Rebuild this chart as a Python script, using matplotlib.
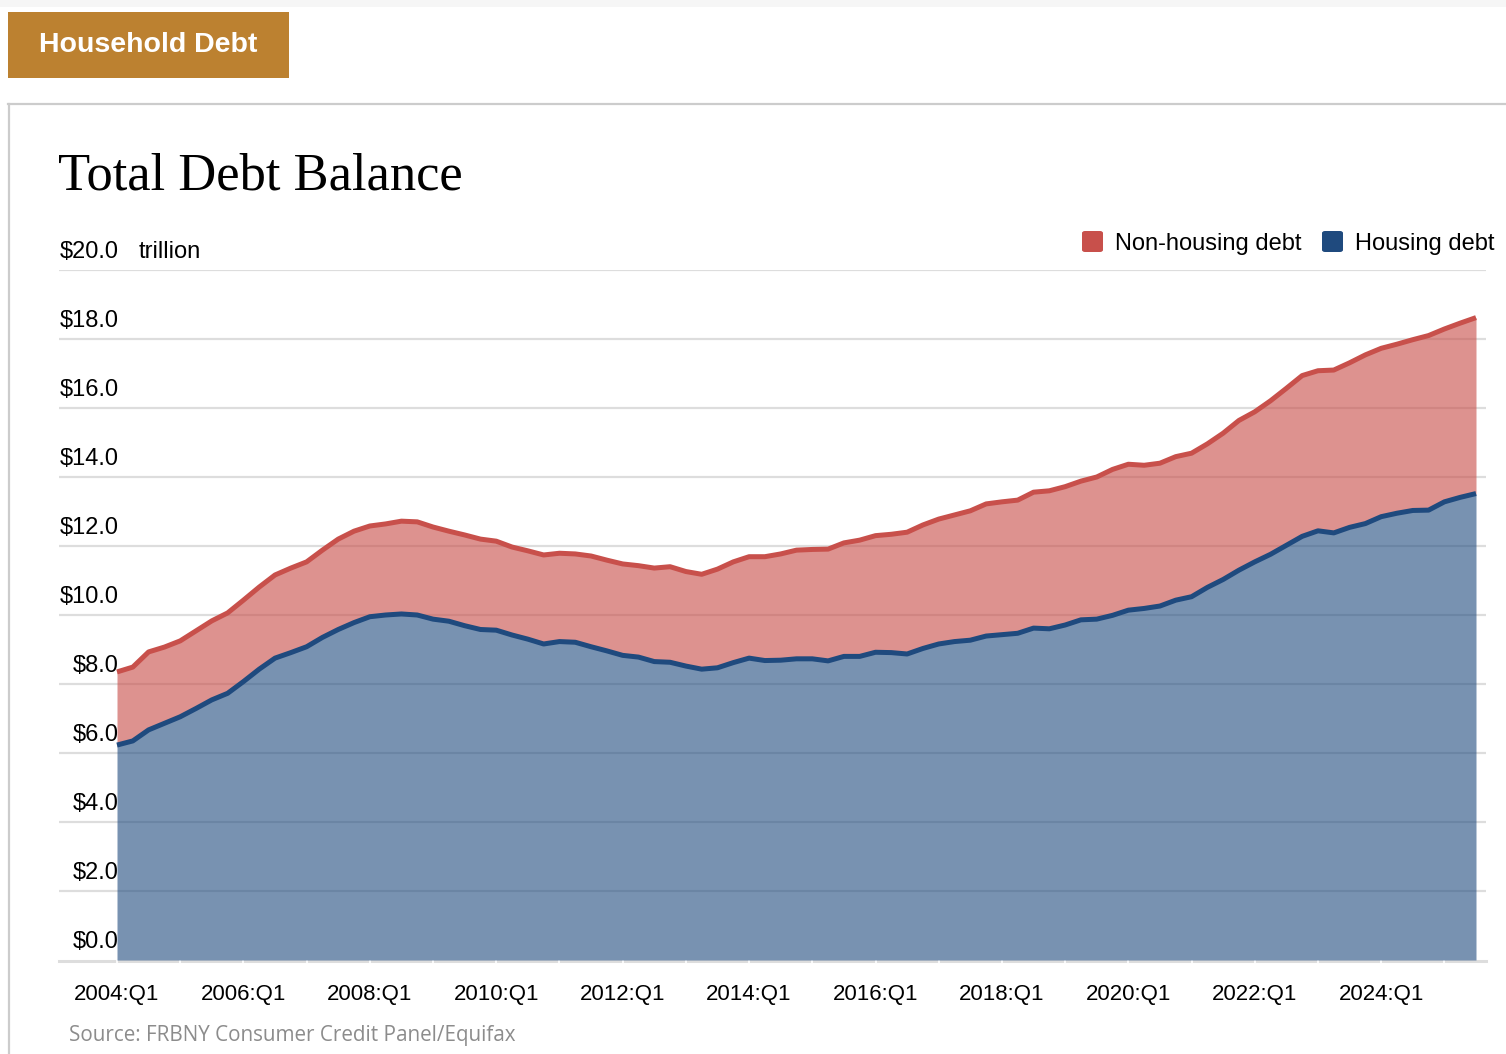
"""
Household debt: total debt balance, split into housing and non-housing debt (NY Fed style area chart).
"""

import matplotlib.pyplot as plt
from matplotlib.lines import Line2D
from matplotlib.patches import Rectangle, FancyBboxPatch

# quarterly balances, 2004:Q1 .. 2025:Q3, $ trillion
total_debt = [
    8.35, 8.49, 8.93, 9.07, 9.25, 9.54, 9.83, 10.06, 10.43, 10.81,
    11.16, 11.36, 11.54, 11.88, 12.20, 12.43, 12.58, 12.64, 12.72, 12.70,
    12.55, 12.43, 12.32, 12.20, 12.14, 11.97, 11.86, 11.74, 11.79, 11.77,
    11.71, 11.59, 11.48, 11.43, 11.36, 11.40, 11.26, 11.18, 11.33, 11.54,
    11.69, 11.69, 11.77, 11.88, 11.90, 11.91, 12.09, 12.17, 12.30, 12.34,
    12.40, 12.61, 12.78, 12.90, 13.02, 13.22, 13.28, 13.33, 13.56, 13.60,
    13.72, 13.88, 14.00, 14.22, 14.37, 14.34, 14.40, 14.59, 14.69, 14.96,
    15.27, 15.64, 15.89, 16.21, 16.57, 16.94, 17.08, 17.10, 17.31, 17.54,
    17.73, 17.85, 17.98, 18.10, 18.29, 18.46, 18.62,
]
housing_debt = [
    6.23, 6.35, 6.67, 6.86, 7.05, 7.29, 7.54, 7.73, 8.07, 8.43,
    8.75, 8.91, 9.08, 9.35, 9.58, 9.78, 9.95, 10.00, 10.03, 10.00,
    9.88, 9.82, 9.69, 9.58, 9.56, 9.42, 9.30, 9.16, 9.23, 9.21,
    9.08, 8.96, 8.83, 8.78, 8.65, 8.63, 8.52, 8.43, 8.47, 8.62,
    8.75, 8.68, 8.69, 8.73, 8.73, 8.67, 8.80, 8.80, 8.92, 8.91,
    8.87, 9.03, 9.16, 9.23, 9.27, 9.39, 9.43, 9.47, 9.62, 9.60,
    9.71, 9.86, 9.88, 9.99, 10.14, 10.19, 10.26, 10.43, 10.53, 10.80,
    11.03, 11.30, 11.54, 11.76, 12.02, 12.28, 12.44, 12.38, 12.54, 12.65,
    12.85, 12.95, 13.03, 13.04, 13.28, 13.41, 13.52,
]
quarters = list(range(len(total_debt)))
tick_years = list(range(2004, 2026, 2))
y_levels = [0, 2, 4, 6, 8, 10, 12, 14, 16, 18, 20]

RED = "#C8504B"
BLUE = "#1F4A7E"
GRID = "#DDDDDD"

W, H = 1506, 1054
fig = plt.figure(figsize=(W / 100, H / 100), dpi=100)
plt.rcParams["font.family"] = ["Liberation Sans", "DejaVu Sans"]


def fx(px):
    return px / W


def fy(py):
    return 1 - py / H


# page chrome
fig.add_artist(Rectangle((0, fy(7)), 1, 7 / H, transform=fig.transFigure,
                         color="#F6F6F6", lw=0))
fig.add_artist(Rectangle((fx(8), fy(78)), 281 / W, 66 / H, transform=fig.transFigure,
                         color="#BC8130", lw=0))
fig.text(fx(148), fy(45), "Household Debt", color="white", fontsize=20.5,
         fontweight="bold", ha="center", va="center")
fig.add_artist(Line2D([fx(8), 1], [fy(104), fy(104)], transform=fig.transFigure,
                      color="#CCCCCC", lw=1.6))
fig.add_artist(Line2D([fx(9), fx(9)], [fy(104), 0], transform=fig.transFigure,
                      color="#CCCCCC", lw=1.6))

fig.text(fx(58), fy(190), "Total Debt Balance", fontfamily="Liberation Serif",
         fontsize=37.8, va="baseline")

# legend
for x0, col, lab in [(1082, RED, "Non-housing debt"), (1322, BLUE, "Housing debt")]:
    fig.add_artist(FancyBboxPatch((fx(x0), fy(252)), 21 / W, 21 / H,
                                  boxstyle="round,pad=0,rounding_size=0.002",
                                  transform=fig.transFigure, color=col, lw=0))
    fig.text(fx(x0 + 33), fy(244), lab, fontsize=17, va="center")

# plot area
step = (1476 - 117) / 86
ax = fig.add_axes([fx(59), fy(960), (1486 - 59) / W, 690 / H])
ax.set_xlim((59 - 117) / step, (1486 - 117) / step)
ax.set_ylim(0, 20)
for s in ax.spines.values():
    s.set_visible(False)
ax.set_yticks([])

for v in y_levels[1:]:
    ax.axhline(v, color=GRID, lw=1.6, zorder=1)
ax.axhline(-0.04, color=GRID, lw=2.2, zorder=1, clip_on=False)
ax.vlines(range(0, 90, 4), -0.12, 0, color="white", lw=1.2, zorder=1, clip_on=False)

ax.fill_between(quarters, 0, housing_debt, color=BLUE, alpha=0.6, lw=0, zorder=2)
ax.fill_between(quarters, housing_debt, total_debt, color=RED, alpha=0.62, lw=0, zorder=2)
ax.plot(quarters, housing_debt, color=BLUE, lw=3.6, zorder=3, solid_capstyle="butt")
ax.plot(quarters, total_debt, color=RED, lw=3.6, zorder=3, solid_capstyle="butt")

for v in y_levels:
    ax.text((119 - 117) / step, v + 0.52, f"${v:.1f}", fontsize=17,
            ha="right", va="center", zorder=5)
ax.text((139 - 117) / step, 20 + 0.52, "trillion", fontsize=17, va="center", zorder=5)

ax.set_xticks([(y - 2004) * 4 for y in tick_years])
ax.set_xticklabels([f"{y}:Q1" for y in tick_years], fontsize=16)
ax.tick_params(axis="x", length=0, pad=17)

fig.text(fx(69), fy(1036), "Source: FRBNY Consumer Credit Panel/Equifax",
         fontfamily="Open Sans", fontsize=14.9, color="#8C8C8C", va="center")

fig.savefig("out.png", dpi=100)
